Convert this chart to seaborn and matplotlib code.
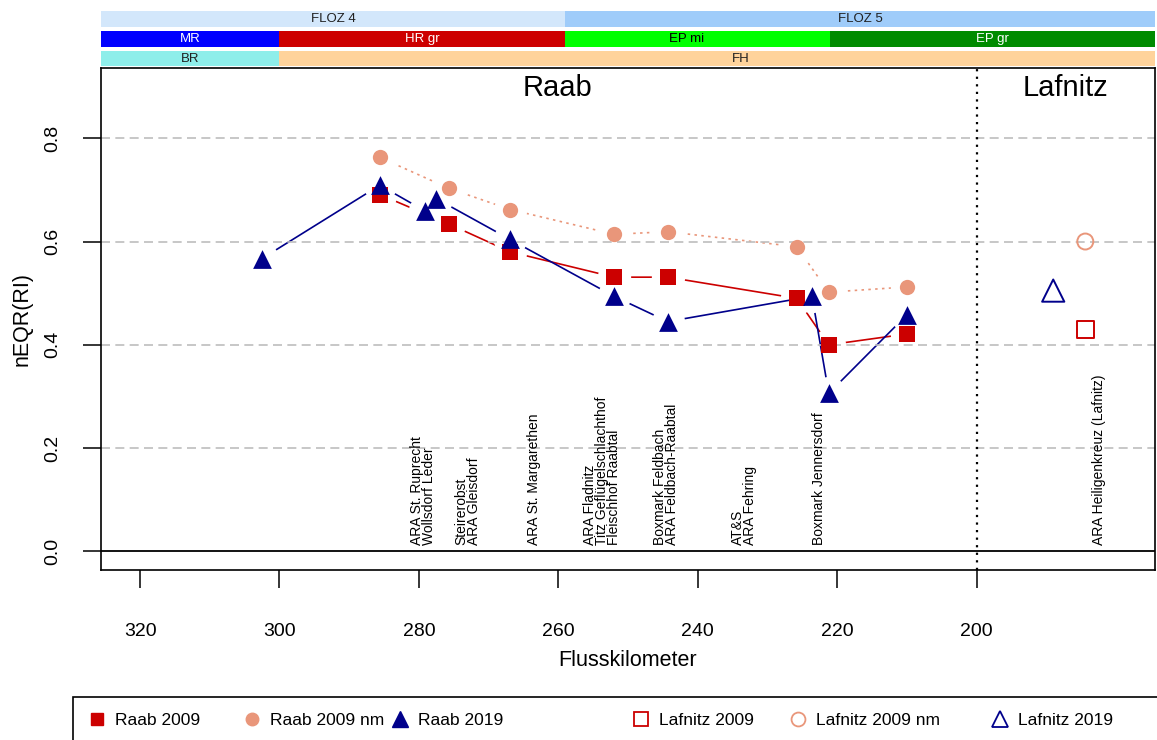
import matplotlib
matplotlib.use("Agg")
import matplotlib.pyplot as plt
from matplotlib.lines import Line2D
from matplotlib.patches import Rectangle
from matplotlib.transforms import blended_transform_factory
import seaborn as sns

# ---- nEQR(RI) along the river (river kilometre, value) ----
raab_2009_km = [285.6, 275.7, 266.9, 252.0, 244.3, 225.8, 221.2, 210.0]
raab_2009 = [0.691, 0.634, 0.580, 0.531, 0.531, 0.490, 0.400, 0.421]
raab_2009_nm = [0.763, 0.703, 0.662, 0.614, 0.619, 0.590, 0.502, 0.512]
raab_2019_km = [302.5, 285.6, 279.1, 277.5, 266.9, 252.0, 244.3, 223.6, 221.2, 210.0]
raab_2019 = [0.567, 0.709, 0.659, 0.683, 0.604, 0.494, 0.445, 0.494, 0.306, 0.458]
lafnitz_2009_km = [184.4]
lafnitz_2009 = [0.430]
lafnitz_2009_nm = [0.600]
lafnitz_2019_km = [189.0]
lafnitz_2019 = [0.505]

# ---- discharges / emitters along the river ----
discharge_km = [279.4, 273.0, 263.5, 253.7, 244.5, 233.4, 222.6, 182.5]
discharge_labels = [
    "ARA St. Ruprecht\nWollsdorf Leder",
    "Steirerobst\nARA Gleisdorf",
    "ARA St. Margarethen",
    "ARA Fladnitz\nTitz Geflügelschlachthof\nFleischhof Raabtal",
    "Boxmark Feldbach\nARA Feldbach-Raabtal",
    "AT&S\nARA Fehring",
    "Boxmark Jennersdorf",
    "ARA Heiligenkreuz (Lafnitz)",
]

# ---- river typology bands (segment borders in km) ----
floz_labels = ["FLOZ 4", "FLOZ 5"]
floz_borders = [259.0]
floz_label_km = [292.3, 216.7]
bio_labels = ["MR", "HR gr", "EP mi", "EP gr"]
bio_borders = [300.0, 259.0, 221.0]
bio_label_km = [312.8, 279.5, 241.6, 197.7]
zone_labels = ["BR", "FH"]
zone_borders = [300.0]
zone_label_km = [312.8, 233.8]

x_ticks = [320, 300, 280, 260, 240, 220, 200]
y_ticks = [0.0, 0.2, 0.4, 0.6, 0.8]
rivers = ["Raab", "Lafnitz"]
river_label_km = [260.1, 187.2]
river_border_km = 200

RED = "#CC0000"
SALMON = "#E9967A"
NAVY = "#00008B"

sns.set_theme(style="ticks")
plt.rcParams["font.family"] = ["Liberation Sans", "DejaVu Sans"]
plt.rcParams["text.color"] = "black"

W, H = 1157, 740
fig = plt.figure(figsize=(W / 100, H / 100), dpi=100)
ax = fig.add_axes([101 / W, 1 - 570 / H, 1054 / W, 502 / H])
band_ax = fig.add_axes([101 / W, 1 - 67 / H, 1054 / W, 57 / H])

X_LIM = (325.6, 174.4)
Y_LIM = (-0.036, 0.936)

# ---- guide lines ----
for yv in y_ticks[1:]:
    ax.axhline(yv, color="#BEBEBE", lw=1.2, ls=(0, (5.4, 3.2)), zorder=2.5)
ax.axhline(0, color="black", lw=1.3, zorder=2.6)
ax.axvline(river_border_km, color="black", lw=1.6, ls=(0, (1, 2.4)), zorder=2.6)

# ---- connected series (lines broken around the symbols) ----
series = [
    (raab_2009_km, raab_2009, RED, "s", 11.5, "-", 2.00),
    (raab_2009_km, raab_2009_nm, SALMON, "o", 11.0, (0, (1.5, 2.6)), 2.02),
    (raab_2019_km, raab_2019, NAVY, "^", 13.5, "-", 2.04),
]
for km, val, col, mk, ms, ls, z in series:
    sns.lineplot(x=km, y=val, sort=False, estimator=None, color=col, lw=1.2,
                 linestyle=ls, ax=ax, zorder=z)
    ax.plot(km, val, ls="none", marker="o", ms=24, mfc="white", mec="none",
            zorder=z + 0.01)
for i, (km, val, col, mk, ms, ls, z) in enumerate(series):
    sns.scatterplot(x=km, y=val, marker=mk, s=ms ** 2, color=col, linewidth=0,
                    ax=ax, zorder=3 + 0.1 * i)

# ---- single Lafnitz sites (open symbols) ----
open_series = [
    (lafnitz_2009_km, lafnitz_2009, RED, "s", 12.0),
    (lafnitz_2009_km, lafnitz_2009_nm, SALMON, "o", 11.5),
    (lafnitz_2019_km, lafnitz_2019, NAVY, "^", 16.0),
]
for km, val, col, mk, ms in open_series:
    sns.scatterplot(x=km, y=val, marker=mk, s=ms ** 2, facecolor="none",
                    edgecolor=col, linewidth=1.4, ax=ax, zorder=3.5)

# ---- discharge labels ----
for km, lab in zip(discharge_km, discharge_labels):
    ax.text(km, 0.012, lab, rotation=90, ha="center", va="bottom",
            fontsize=10, linespacing=0.8, multialignment="left", zorder=4)

# ---- river names ----
trans = blended_transform_factory(ax.transData, ax.transAxes)
for km, name in zip(river_label_km, rivers):
    ax.text(km, 0.96, name, transform=trans, ha="center", va="center",
            fontsize=21)

# ---- axes ----
ax.set_xlim(*X_LIM)
ax.set_ylim(*Y_LIM)
ax.set_xticks(x_ticks)
ax.set_xticklabels([str(v) for v in x_ticks])
ax.set_yticks(y_ticks)
ax.set_yticklabels([f"{v:.1f}" for v in y_ticks], rotation=90, va="center")
ax.tick_params(axis="both", direction="out", length=13, width=1.1,
               colors="black", labelsize=14, bottom=True, left=True)
ax.tick_params(axis="x", pad=25)
ax.tick_params(axis="y", pad=15.5)
for sp in ax.spines.values():
    sp.set_visible(True)
    sp.set_color("black")
    sp.set_linewidth(1.2)
ax.set_xlabel("Flusskilometer", fontsize=15.5, color="black")
ax.set_ylabel("nEQR(RI)", fontsize=15.5, color="black")
ax.xaxis.label.set_va("center")
ax.yaxis.label.set_va("center")
ax.xaxis.set_label_coords(0.5, -(661 - 570) / 502)
ax.yaxis.set_label_coords(-(101 - 22) / 1054, 0.5)
ax.grid(False)

# ---- typology bands above the plot ----
band_ax.set_xlim(*X_LIM)
band_ax.set_ylim(67, 10)
band_ax.axis("off")

def draw_band(labels, borders, label_km, colors, text_colors, top, bottom):
    edges = [X_LIM[0]] + borders + [X_LIM[1]]
    for j, lab in enumerate(labels):
        band_ax.add_patch(Rectangle((edges[j], top), edges[j + 1] - edges[j],
                                    bottom - top, facecolor=colors[j],
                                    edgecolor="none"))
        band_ax.text(label_km[j], (top + bottom) / 2, lab, ha="center",
                     va="center", fontsize=9.5, color=text_colors[j])

draw_band(floz_labels, floz_borders, floz_label_km,
          ["#D3E7FB", "#9FCCFA"], ["#202020", "#202020"], 11, 27)
draw_band(bio_labels, bio_borders, bio_label_km,
          ["#0000FF", "#CD0000", "#00FF00", "#008B00"],
          ["white", "white", "black", "white"], 31, 47)
draw_band(zone_labels, zone_borders, zone_label_km,
          ["#8EEEEA", "#FFD39B"], ["#202020", "#202020"], 51, 66)

# ---- legend below the plot ----
fig.add_artist(Rectangle((73 / W, (740 - 697) / H - 1), 1, 1,
                         transform=fig.transFigure, fill=False,
                         edgecolor="black", lw=1.2))
legend_items = [
    ("Raab 2009", dict(marker="s", color=RED, ms=9, ls="none")),
    ("Raab 2009 nm", dict(marker="o", color=SALMON, ms=9, ls="none")),
    ("Raab 2019", dict(marker="^", color=NAVY, ms=11, ls="none")),
    ("Lafnitz 2009", dict(marker="s", color=RED, mfc="none", ms=10, mew=1.3, ls="none")),
    ("Lafnitz 2009 nm", dict(marker="o", color=SALMON, mfc="none", ms=10, mew=1.3, ls="none")),
    ("Lafnitz 2019", dict(marker="^", color=NAVY, mfc="none", ms=12, mew=1.3, ls="none")),
]
legend_marker_px = [97, 252, 400, 641, 798, 1000]
for (lab, kw), mx in zip(legend_items, legend_marker_px):
    fig.legend(handles=[Line2D([], [], **kw)], labels=[lab], loc="center left",
               bbox_to_anchor=((mx - 8.5) / W, 1 - 720 / H), frameon=False,
               fontsize=12.5, handlelength=1.0, handletextpad=0.5,
               borderpad=0, borderaxespad=0)

fig.savefig("out.png", dpi=100, facecolor="white")
